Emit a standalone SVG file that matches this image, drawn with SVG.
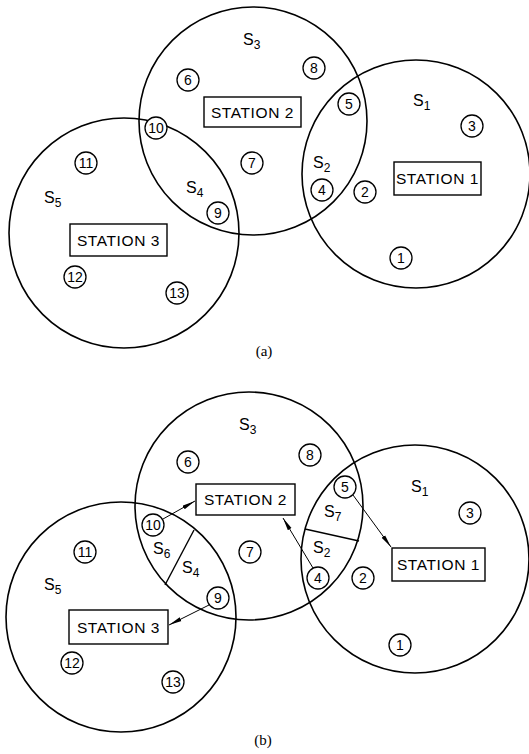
<svg xmlns="http://www.w3.org/2000/svg" width="529" height="754" viewBox="0 0 529 754">
<defs>
<style>
.big{fill:none;stroke:#000;stroke-width:1.6}
.sm{fill:#fff;stroke:#000;stroke-width:1.3}
.num{font-family:"Liberation Sans",Arial,sans-serif;font-size:14px;text-anchor:middle;fill:#000}
.box{fill:#fff;stroke:#000;stroke-width:1.4}
.st{font-family:"Liberation Sans",Arial,sans-serif;font-size:15.5px;text-anchor:middle;fill:#000;letter-spacing:0.6px}
.lab{font-family:"Liberation Sans",Arial,sans-serif;font-size:16px;fill:#000}
.sub{font-size:12px}
.cap{font-family:"Liberation Serif","Times New Roman",serif;font-size:15px;text-anchor:middle;fill:#000}
.div{stroke:#000;stroke-width:1.4;fill:none}
.arr{stroke:#000;stroke-width:1;fill:none;marker-end:url(#ah)}
</style>
<marker id="ah" markerWidth="14" markerHeight="6" refX="13" refY="3" orient="auto" markerUnits="userSpaceOnUse">
<path d="M0,0.9 L13,3 L0,5.1 Z" fill="#000"/>
</marker>
</defs>

<!-- (a) -->
<g id="a-regions">
<circle class="big" cx="253" cy="121" r="114"/>
<circle class="big" cx="416" cy="174" r="114"/>
<circle class="big" cx="124" cy="233" r="115"/>
</g>
<g id="a-labels">
<text class="lab" x="243" y="45">S<tspan class="sub" dy="4">3</tspan></text>
<text class="lab" x="413" y="106">S<tspan class="sub" dy="4">1</tspan></text>
<text class="lab" x="313" y="168">S<tspan class="sub" dy="4">2</tspan></text>
<text class="lab" x="186" y="193">S<tspan class="sub" dy="4">4</tspan></text>
<text class="lab" x="44" y="203">S<tspan class="sub" dy="4">5</tspan></text>
</g>
<g id="a-station1"><rect class="box" x="394" y="162" width="87" height="33"/><text class="st" x="437.5" y="184">STATION 1</text></g>
<g id="a-station2"><rect class="box" x="204" y="97" width="97" height="30"/><text class="st" x="252.5" y="117.5">STATION 2</text></g>
<g id="a-station3"><rect class="box" x="70" y="224" width="97" height="32"/><text class="st" x="118.5" y="245.5">STATION 3</text></g>
<g id="a-n1"><circle class="sm" cx="401" cy="258" r="11"/><text class="num" x="401" y="263">1</text></g>
<g id="a-n2"><circle class="sm" cx="365" cy="192" r="11"/><text class="num" x="365" y="197">2</text></g>
<g id="a-n3"><circle class="sm" cx="472" cy="126" r="11"/><text class="num" x="472" y="131">3</text></g>
<g id="a-n4"><circle class="sm" cx="322" cy="190" r="11"/><text class="num" x="322" y="195">4</text></g>
<g id="a-n5"><circle class="sm" cx="349" cy="104" r="11"/><text class="num" x="349" y="109">5</text></g>
<g id="a-n6"><circle class="sm" cx="188" cy="80" r="11"/><text class="num" x="188" y="85">6</text></g>
<g id="a-n7"><circle class="sm" cx="252" cy="163" r="11"/><text class="num" x="252" y="168">7</text></g>
<g id="a-n8"><circle class="sm" cx="314" cy="68" r="11"/><text class="num" x="314" y="73">8</text></g>
<g id="a-n9"><circle class="sm" cx="218" cy="213" r="11"/><text class="num" x="218" y="218">9</text></g>
<g id="a-n10"><circle class="sm" cx="156" cy="128" r="11"/><text class="num" x="156" y="133">10</text></g>
<g id="a-n11"><circle class="sm" cx="86" cy="163" r="11"/><text class="num" x="86" y="168">11</text></g>
<g id="a-n12"><circle class="sm" cx="75" cy="277" r="11"/><text class="num" x="75" y="282">12</text></g>
<g id="a-n13"><circle class="sm" cx="177" cy="293" r="11"/><text class="num" x="177" y="298">13</text></g>
<text class="cap" x="264" y="356">(a)</text>

<!-- (b) -->
<g id="b-regions">
<circle class="big" cx="249" cy="506" r="114"/>
<circle class="big" cx="415" cy="559" r="114"/>
<circle class="big" cx="121" cy="617" r="115"/>
<line class="div" x1="305" y1="529" x2="359" y2="541"/>
<line class="div" x1="194" y1="530" x2="165" y2="585"/>
</g>
<g id="b-labels">
<text class="lab" x="239" y="430">S<tspan class="sub" dy="4">3</tspan></text>
<text class="lab" x="411" y="492">S<tspan class="sub" dy="4">1</tspan></text>
<text class="lab" x="324" y="517">S<tspan class="sub" dy="4">7</tspan></text>
<text class="lab" x="313" y="553">S<tspan class="sub" dy="4">2</tspan></text>
<text class="lab" x="153" y="554">S<tspan class="sub" dy="4">6</tspan></text>
<text class="lab" x="182" y="573">S<tspan class="sub" dy="4">4</tspan></text>
<text class="lab" x="44" y="590">S<tspan class="sub" dy="4">5</tspan></text>
</g>
<g id="b-station1"><rect class="box" x="392" y="548" width="93" height="33"/><text class="st" x="438.5" y="570">STATION 1</text></g>
<g id="b-station2"><rect class="box" x="196" y="484" width="99" height="31"/><text class="st" x="245.5" y="505">STATION 2</text></g>
<g id="b-station3"><rect class="box" x="69" y="610" width="99" height="34"/><text class="st" x="118.5" y="632.5">STATION 3</text></g>
<g id="b-n1"><circle class="sm" cx="400" cy="645" r="11"/><text class="num" x="400" y="650">1</text></g>
<g id="b-n2"><circle class="sm" cx="363" cy="578" r="11"/><text class="num" x="363" y="583">2</text></g>
<g id="b-n3"><circle class="sm" cx="470" cy="513" r="11"/><text class="num" x="470" y="518">3</text></g>
<g id="b-n4"><circle class="sm" cx="318" cy="578" r="11"/><text class="num" x="318" y="583">4</text></g>
<g id="b-n5"><circle class="sm" cx="345" cy="487" r="11"/><text class="num" x="345" y="492">5</text></g>
<g id="b-n6"><circle class="sm" cx="188" cy="462" r="11"/><text class="num" x="188" y="467">6</text></g>
<g id="b-n7"><circle class="sm" cx="250" cy="552" r="11"/><text class="num" x="250" y="557">7</text></g>
<g id="b-n8"><circle class="sm" cx="310" cy="455" r="11"/><text class="num" x="310" y="460">8</text></g>
<g id="b-n9"><circle class="sm" cx="218" cy="598" r="11"/><text class="num" x="218" y="603">9</text></g>
<g id="b-n10"><circle class="sm" cx="153" cy="525" r="11"/><text class="num" x="153" y="530">10</text></g>
<g id="b-n11"><circle class="sm" cx="85" cy="552" r="11"/><text class="num" x="85" y="557">11</text></g>
<g id="b-n12"><circle class="sm" cx="72" cy="663" r="11"/><text class="num" x="72" y="668">12</text></g>
<g id="b-n13"><circle class="sm" cx="173" cy="682" r="11"/><text class="num" x="173" y="687">13</text></g>
<g id="b-connectors">
<line class="arr" x1="353" y1="495" x2="391" y2="547"/>
<line class="arr" x1="313" y1="568" x2="283" y2="518"/>
<line class="arr" x1="163" y1="519" x2="195" y2="501"/>
<line class="arr" x1="209" y1="605" x2="169" y2="625"/>
</g>
<text class="cap" x="263" y="745">(b)</text>
</svg>
